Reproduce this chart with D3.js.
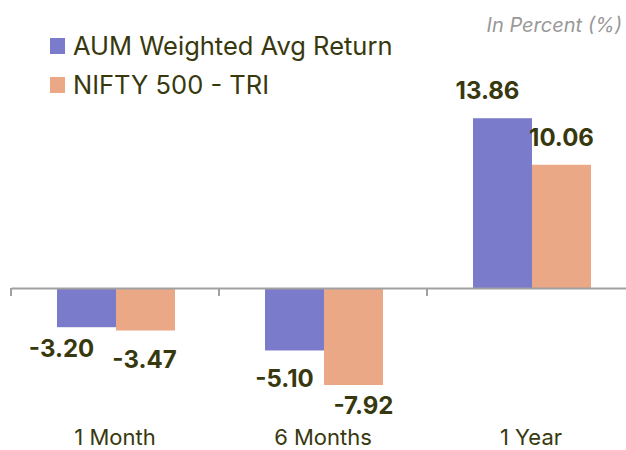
<!DOCTYPE html>
<html lang="en">
<head>
    <meta charset="utf-8">
    <script src="https://cdn.jsdelivr.net/npm/d3@7"></script>
    <style>
        body { margin: 0; background: #fff; }
        text { font-family: Inter, sans-serif; }
    </style>
</head>
<body>

<script>
    var w = 626;
    var h = 450;

    var categories = ['1 Month', '6 Months', '1 Year'];
    var seriesNames = ['AUM Weighted Avg Return', 'NIFTY 500 - TRI'];
    var aumReturn = [-3.20, -5.10, 13.86];
    var niftyReturn = [-3.47, -7.92, 10.06];

    var colors = ['#7b7bcb', '#eba887'];
    // hand placed label nudges (px) relative to bar end, as in the original
    var labelNudge = [
        [[-25, 30], [-1, 37]],
        [[-10, 37], [10, 29]],
        [[-15, -19], [0, -19]]
    ];

    var svg = d3.select('body').append('svg')
        .attr('width', w).attr('height', h);

    var x0 = d3.scaleBand().domain(categories).range([11, 635]);
    var x1 = d3.scaleBand().domain(seriesNames).range([46, 164]);
    var y = d3.scaleLinear().domain([-10, 15]).range([410.5, 104.25]);

    var fmt = function(v) { return v.toFixed(2); };

    var rows = categories.map(function(c, i) {
        return {cat: c, vals: [aumReturn[i], niftyReturn[i]], idx: i};
    });

    var groups = svg.selectAll('g.grp')
        .data(rows)
        .enter().append('g')
        .attr('class', 'grp')
        .attr('transform', function(d) { return 'translate(' + x0(d.cat) + ',0)'; });

    groups.selectAll('rect')
        .data(function(d) { return d.vals.map(function(v, j) { return {v: v, j: j, i: d.idx}; }); })
        .enter().append('rect')
        .attr('x', function(d) { return x1(seriesNames[d.j]); })
        .attr('width', x1.bandwidth())
        .attr('y', function(d) { return y(Math.max(0, d.v)); })
        .attr('height', function(d) { return Math.abs(y(d.v) - y(0)); })
        .attr('fill', function(d) { return colors[d.j]; });

    groups.selectAll('text.val')
        .data(function(d) { return d.vals.map(function(v, j) { return {v: v, j: j, i: d.idx}; }); })
        .enter().append('text')
        .attr('class', 'val')
        .attr('x', function(d) { return x1(seriesNames[d.j]) + x1.bandwidth() / 2 + labelNudge[d.i][d.j][0]; })
        .attr('y', function(d) { return y(d.v) + labelNudge[d.i][d.j][1]; })
        .attr('text-anchor', 'middle')
        .attr('font-size', '24px')
        .attr('font-weight', 'bold')
        .attr('fill', '#38380e')
        .text(function(d) { return fmt(d.v); });

    // axis at zero
    var axis = svg.append('g')
        .attr('transform', 'translate(0,' + y(0) + ')')
        .call(d3.axisBottom(x0).tickSize(0).tickFormat(''));
    axis.select('.domain').attr('stroke', '#a0a0a0').attr('stroke-width', 2);
    axis.selectAll('.tick').remove();

    svg.selectAll('line.tk')
        .data(categories)
        .enter().append('line')
        .attr('class', 'tk')
        .attr('x1', function(d) { return x0(d); })
        .attr('x2', function(d) { return x0(d); })
        .attr('y1', y(0))
        .attr('y2', y(0) + 8)
        .attr('stroke', '#a0a0a0')
        .attr('stroke-width', 2);

    svg.selectAll('text.cat')
        .data(categories)
        .enter().append('text')
        .attr('class', 'cat')
        .attr('x', function(d) { return x0(d) + x0.bandwidth() / 2; })
        .attr('y', 445)
        .attr('text-anchor', 'middle')
        .attr('font-size', '22px')
        .attr('fill', '#38380e')
        .text(function(d) { return d; });

    // legend
    var legend = svg.selectAll('g.leg')
        .data(seriesNames)
        .enter().append('g')
        .attr('class', 'leg')
        .attr('transform', function(d, i) { return 'translate(50,' + (38 + i * 39) + ')'; });
    legend.append('rect')
        .attr('width', 15).attr('height', 16)
        .attr('fill', function(d, i) { return colors[i]; });
    legend.append('text')
        .attr('x', 23).attr('y', 17)
        .attr('font-size', '25.5px')
        .attr('fill', '#38380e')
        .text(function(d) { return d; });

    svg.append('text')
        .attr('x', 622).attr('y', 32)
        .attr('text-anchor', 'end')
        .attr('font-size', '20px')
        .attr('font-style', 'italic')
        .attr('fill', '#999999')
        .text('In Percent (%)');
</script>
</body>
</html>
